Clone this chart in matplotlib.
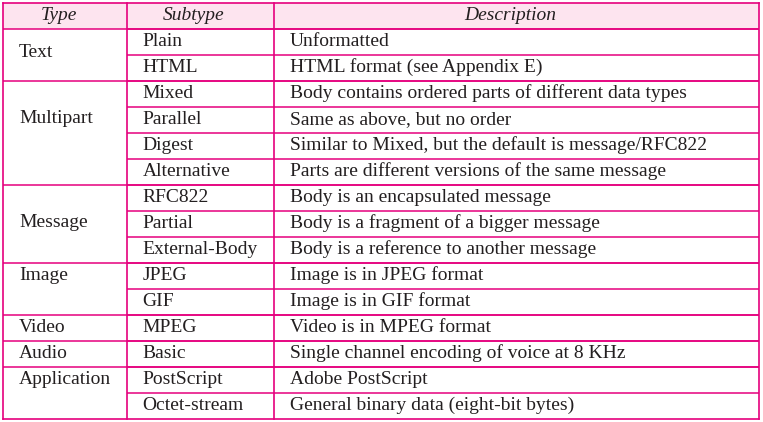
import matplotlib.pyplot as plt

# table content
headers = ["Type", "Subtype", "Description"]
types = ["Text", "Multipart", "Message", "Image", "Video", "Audio", "Application"]
group_sizes = [2, 4, 3, 2, 1, 1, 2]
subtypes = ["Plain", "HTML", "Mixed", "Parallel", "Digest", "Alternative",
            "RFC822", "Partial", "External-Body", "JPEG", "GIF", "MPEG",
            "Basic", "PostScript", "Octet-stream"]
descriptions = [
    "Unformatted",
    "HTML format (see Appendix E)",
    "Body contains ordered parts of different data types",
    "Same as above, but no order",
    "Similar to Mixed, but the default is message/RFC822",
    "Parts are different versions of the same message",
    "Body is an encapsulated message",
    "Body is a fragment of a bigger message",
    "Body is a reference to another message",
    "Image is in JPEG format",
    "Image is in GIF format",
    "Video is in MPEG format",
    "Single channel encoding of voice at 8 KHz",
    "Adobe PostScript",
    "General binary data (eight-bit bytes)",
]

W, H = 763, 422
col_x = [2.5, 126.5, 273.5, 758.5]
top = 2.5
row_h = 26.0
# baseline offset of the type label from the top of its group
type_offsets = [28.8, 42.5, 42.5, 17.5, 17.5, 17.5, 17.5]

line_color = "#e5007d"
text_color = "#231f20"
font = "Liberation Serif"
fs = 14.0

fig = plt.figure(figsize=(W / 100, H / 100), dpi=100)
ax = fig.add_axes([0, 0, 1, 1])
ax.set_xlim(0, W)
ax.set_ylim(H, 0)
ax.axis("off")

n_rows = len(subtypes)
bottom = top + row_h * (n_rows + 1)

# header band
ax.fill_between([col_x[0], col_x[-1]], top, top + row_h, color="#fde4ef", lw=0)

for i, h in enumerate(headers):
    cx = (col_x[i] + col_x[i + 1]) / 2 - 6
    ax.text(cx, top + 17, h, ha="center", va="baseline", fontsize=fs,
            family=font, style="italic", color=text_color)

# body rows
for r in range(n_rows):
    y0 = top + row_h * (r + 1)
    ax.text(142.5, y0 + 17.5, subtypes[r], ha="left", va="baseline",
            fontsize=fs, family=font, color=text_color)
    ax.text(290, y0 + 17.5, descriptions[r], ha="left", va="baseline",
            fontsize=fs, family=font, color=text_color)
    # inner row line (subtype + description columns)
    ax.plot([col_x[1], col_x[-1]], [y0, y0], color=line_color, lw=1.1,
            solid_capstyle="butt")

# groups
start = 0
for t, n, off in zip(types, group_sizes, type_offsets):
    y0 = top + row_h * (start + 1)
    ax.plot([col_x[0], col_x[-1]], [y0, y0], color=line_color, lw=1.1,
            solid_capstyle="butt")
    ax.text(19, y0 + off, t, ha="left", va="baseline", fontsize=fs,
            family=font, color=text_color)
    start += n

# outer border and column lines
ax.plot([col_x[0], col_x[-1]], [top, top], color=line_color, lw=1.2)
ax.plot([col_x[0], col_x[-1]], [bottom, bottom], color=line_color, lw=1.2)
for x in col_x:
    ax.plot([x, x], [top, bottom], color=line_color, lw=1.2)

fig.savefig("out.png", dpi=100)
